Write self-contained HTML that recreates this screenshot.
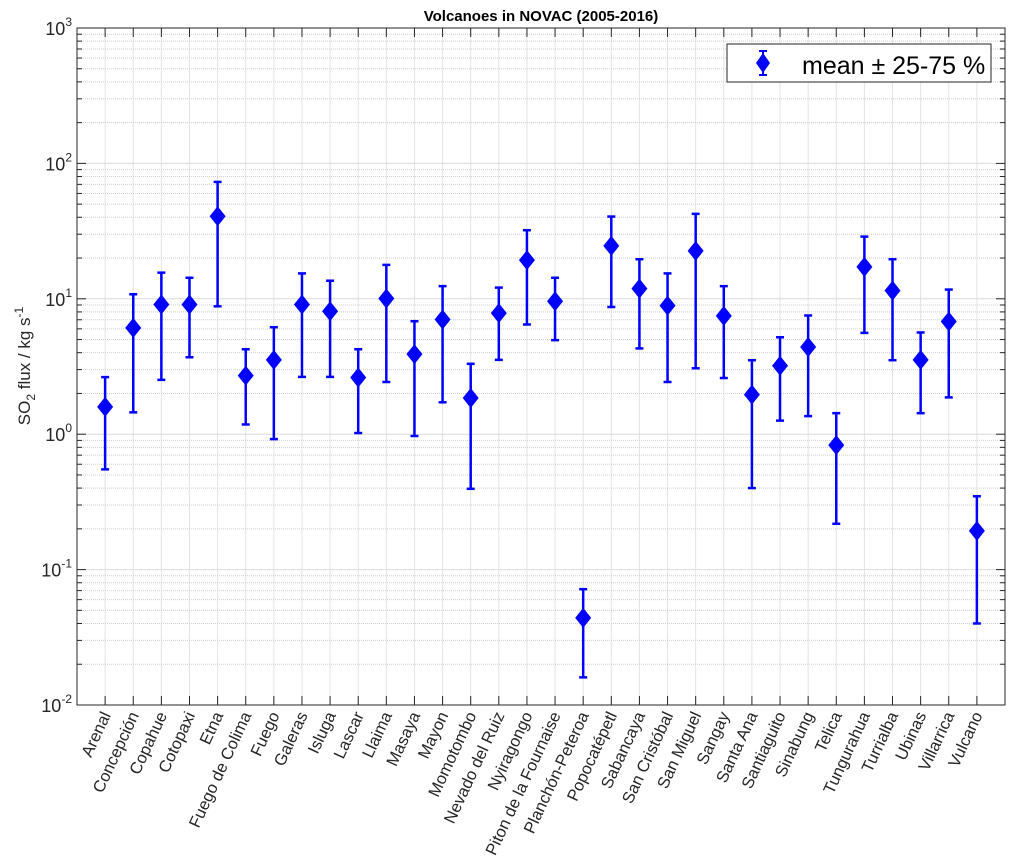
<!DOCTYPE html>
<html><head><meta charset="utf-8"><style>
body{margin:0;background:#fff;font-family:"Liberation Sans",Arial,sans-serif}
svg{display:block}
</style></head><body>
<svg id="chart" width="1018" height="867" xmlns="http://www.w3.org/2000/svg">
<rect width="1018" height="867" fill="#fff"/>
<text x="541" y="21" text-anchor="middle" font-size="15" font-weight="bold" font-family="Liberation Sans, Arial, sans-serif">Volcanoes in NOVAC (2005-2016)</text>
<g id="grid"></g>
<g id="axes"></g>
<g id="series"></g>
<g id="labels"></g>
<text transform="translate(30,366) rotate(-90)" text-anchor="middle" font-size="17" fill="#262626" font-family="Liberation Sans, Arial, sans-serif">SO<tspan dy="5" font-size="12">2</tspan><tspan dy="-5"> flux / kg s</tspan><tspan dy="-7" font-size="12">-1</tspan></text>
<g>
<rect x="727" y="44" width="264" height="38" fill="#fff" stroke="#262626" stroke-width="1"/>
<line x1="763" y1="51" x2="763" y2="75" stroke="#00f" stroke-width="2"/>
<line x1="759" y1="51" x2="767" y2="51" stroke="#00f" stroke-width="2"/>
<line x1="759" y1="75" x2="767" y2="75" stroke="#00f" stroke-width="2"/>
<polygon points="763,53 770,63 763,73 756,63" fill="#00f"/>
<text x="802" y="74" font-size="25" fill="#000" font-family="Liberation Sans, Arial, sans-serif">mean ± 25-75 %</text>
</g>
</svg>
<script>
const categories=["Arenal","Concepción","Copahue","Cotopaxi","Etna","Fuego de Colima","Fuego","Galeras","Isluga","Lascar","Llaima","Masaya","Mayon","Momotombo","Nevado del Ruiz","Nyiragongo","Piton de la Fournaise","Planchón-Peteroa","Popocatépetl","Sabancaya","San Cristóbal","San Miguel","Sangay","Santa Ana","Santiaguito","Sinabung","Telica","Tungurahua","Turrialba","Ubinas","Villarrica","Vulcano"];
const meanValues=[1.59,6.1,9.08,9.08,40.7,2.71,3.54,9.08,8.1,2.62,10.05,3.9,7.03,1.85,7.83,19.3,9.6,0.044,24.6,11.9,8.9,22.6,7.48,1.96,3.2,4.41,0.83,17.2,11.5,3.54,6.8,0.193];
const lowValues=[0.55,1.45,2.52,3.7,8.8,1.18,0.92,2.65,2.65,1.02,2.43,0.97,1.72,0.395,3.54,6.46,4.95,0.016,8.7,4.3,2.43,3.07,2.6,0.40,1.26,1.36,0.218,5.6,3.52,1.43,1.87,0.040];
const highValues=[2.64,10.8,15.6,14.3,73,4.24,6.17,15.4,13.6,4.24,17.8,6.83,12.4,3.31,12.1,32.1,14.3,0.0717,40.5,19.6,15.4,42.4,12.4,3.52,5.2,7.53,1.43,28.8,19.6,5.64,11.7,0.348];
const yTickExps=[-2,-1,0,1,2,3];

const NS="http://www.w3.org/2000/svg";
const L=77,R=1005,T=28,B=705;
const xMax=categories.length+1;
function xs(i){return L+(i+1)*(R-L)/xMax;}
function ys(v){return B-(Math.log10(v)+2)*(B-T)/5;}
function mk(tag,attrs,parent){const e=document.createElementNS(NS,tag);for(const k in attrs)e.setAttribute(k,attrs[k]);parent.appendChild(e);return e;}
const grid=document.getElementById('grid'),axes=document.getElementById('axes'),series=document.getElementById('series'),labels=document.getElementById('labels');

categories.forEach((c,i)=>{const l=mk('line',{x1:xs(i),x2:xs(i),y1:T,y2:B,stroke:'#e3e3e3','stroke-width':1},grid);

});
yTickExps.forEach(e=>{
 const y=ys(Math.pow(10,e));
 const g=mk('line',{x1:L,x2:R,y1:y,y2:y,stroke:'#dcdcdc','stroke-width':1},grid);
 
 
 const t=mk('text',{x:L-5,y:y+7,'text-anchor':'end','font-size':18,fill:'#262626'},axes);
 
 
 t.textContent='10';
 const s=mk('tspan',{dy:-9,'font-size':12},t);s.textContent=String(e);
 mk('line',{x1:L,x2:L+9,y1:y,y2:y,stroke:'#262626'},axes);
 mk('line',{x1:R,x2:R-9,y1:y,y2:y,stroke:'#262626'},axes);
 if(e<3){for(let m=2;m<=9;m++){const ym=ys(m*Math.pow(10,e));
  const mg=mk('line',{x1:L,x2:R,y1:ym,y2:ym,stroke:'#cfcfcf','stroke-width':1,'stroke-dasharray':'1,1'},grid);
  
  
  mk('line',{x1:L,x2:L+5,y1:ym,y2:ym,stroke:'#262626'},axes);
  mk('line',{x1:R,x2:R-5,y1:ym,y2:ym,stroke:'#262626'},axes);}}
});
const box=mk('rect',{x:L,y:T,width:R-L,height:B-T,fill:'none',stroke:'#262626','stroke-width':1},axes);


categories.forEach((c,i)=>{const x=xs(i);
 mk('line',{x1:x,x2:x,y1:B,y2:B-9,stroke:'#262626'},axes);
 mk('line',{x1:x,x2:x,y1:T,y2:T+9,stroke:'#262626'},axes);
 const t=mk('text',{transform:`translate(${x+6},${B+10}) rotate(-65)`,'text-anchor':'end','font-size':16.5,fill:'#262626'},labels);
 
 
 t.textContent=c;
});
categories.forEach((c,i)=>{const x=xs(i),ym=ys(meanValues[i]),yl=ys(lowValues[i]),yh=ys(highValues[i]);
 const g=mk('g',{},series);
 
 
 mk('line',{x1:x,x2:x,y1:yh,y2:yl,stroke:'#00f','stroke-width':2.5},g);
 mk('line',{x1:x-4,x2:x+4,y1:yh,y2:yh,stroke:'#00f','stroke-width':2.5},g);
 mk('line',{x1:x-4,x2:x+4,y1:yl,y2:yl,stroke:'#00f','stroke-width':2.5},g);
 mk('polygon',{points:`${x},${ym-10} ${x+8},${ym} ${x},${ym+10} ${x-8},${ym}`,fill:'#00f'},g);
});
</script>
</body></html>
